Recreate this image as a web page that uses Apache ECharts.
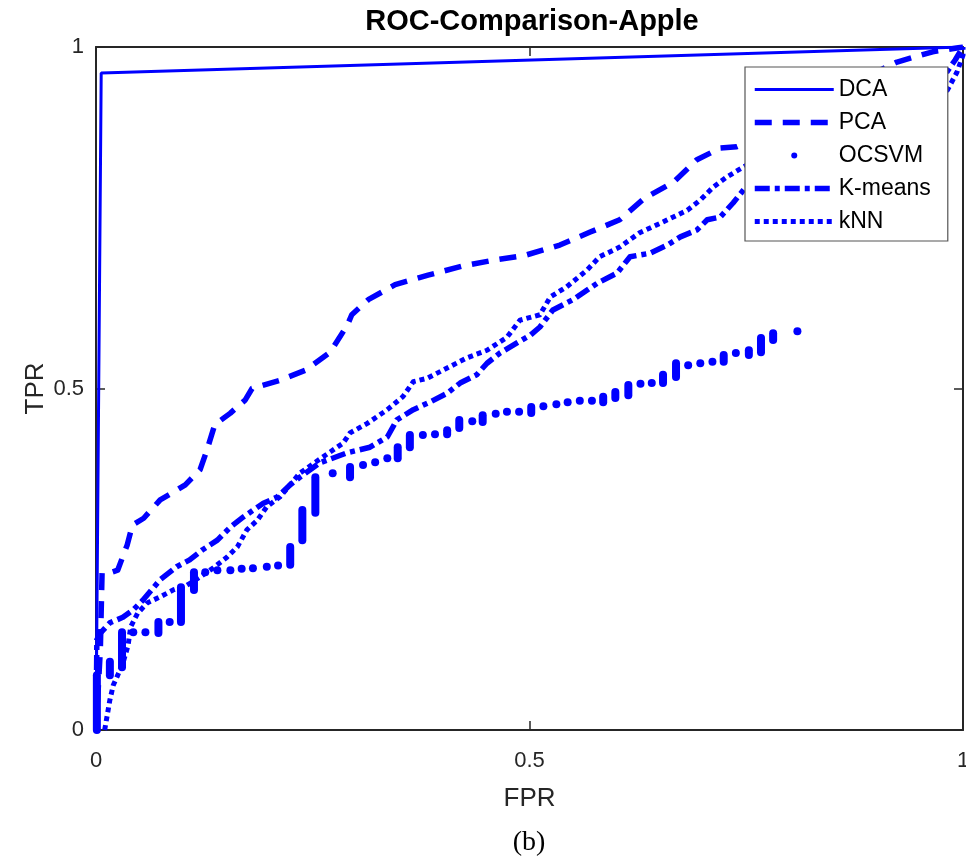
<!DOCTYPE html>
<html>
<head>
<meta charset="utf-8">
<script src="https://cdn.jsdelivr.net/npm/echarts@6/dist/echarts.min.js"></script>
<style>
  html, body { margin: 0; padding: 0; background: #ffffff; overflow: hidden; }
  #chart { width: 966px; height: 863px; }
</style>
</head>
<body>
<div id="chart"></div>
<script>
// ---------- Data ----------
const tickValues = [0, 0.5, 1];
const tickLabels = ['0', '0.5', '1'];

const dcaFpr = [0, 0.006, 1];
const dcaTpr = [0, 0.962, 1];

const pcaFpr = [0, 0.005, 0.007, 0.018, 0.025, 0.036, 0.042, 0.055, 0.074, 0.089, 0.103, 0.12, 0.128, 0.137, 0.155, 0.172, 0.18, 0.212, 0.242, 0.27, 0.29, 0.295, 0.314, 0.345, 0.383, 0.422, 0.459, 0.495, 0.535, 0.57, 0.604, 0.633, 0.666, 0.693, 0.72, 0.739, 0.81, 0.893, 0.924, 0.965, 1];
const pcaTpr = [0, 0.117, 0.23, 0.231, 0.234, 0.271, 0.30, 0.31, 0.337, 0.348, 0.359, 0.381, 0.41, 0.447, 0.464, 0.483, 0.5, 0.512, 0.527, 0.553, 0.593, 0.608, 0.63, 0.652, 0.666, 0.679, 0.688, 0.695, 0.71, 0.729, 0.747, 0.779, 0.802, 0.835, 0.852, 0.854, 0.89, 0.959, 0.978, 0.993, 1];

const kmeansFpr = [0, 0.001, 0.005, 0.016, 0.031, 0.043, 0.054, 0.074, 0.093, 0.108, 0.123, 0.14, 0.155, 0.17, 0.193, 0.209, 0.224, 0.235, 0.258, 0.29, 0.316, 0.336, 0.347, 0.366, 0.385, 0.405, 0.42, 0.439, 0.451, 0.466, 0.486, 0.501, 0.512, 0.527, 0.55, 0.578, 0.601, 0.616, 0.639, 0.659, 0.674, 0.693, 0.705, 0.72, 0.735, 0.749, 0.86, 0.979, 0.991, 1];
const kmeansTpr = [0, 0.132, 0.142, 0.157, 0.165, 0.176, 0.19, 0.22, 0.239, 0.249, 0.264, 0.278, 0.297, 0.312, 0.332, 0.341, 0.359, 0.37, 0.391, 0.406, 0.414, 0.429, 0.454, 0.469, 0.48, 0.493, 0.508, 0.52, 0.537, 0.552, 0.567, 0.578, 0.59, 0.615, 0.63, 0.654, 0.669, 0.693, 0.698, 0.71, 0.722, 0.732, 0.747, 0.751, 0.772, 0.794, 0.87, 0.959, 0.981, 1];

const knnFpr = [0.01, 0.016, 0.02, 0.025, 0.032, 0.037, 0.04, 0.048, 0.059, 0.074, 0.089, 0.105, 0.12, 0.135, 0.151, 0.163, 0.174, 0.186, 0.197, 0.212, 0.235, 0.262, 0.285, 0.293, 0.313, 0.336, 0.354, 0.366, 0.382, 0.405, 0.428, 0.451, 0.474, 0.489, 0.512, 0.524, 0.543, 0.566, 0.581, 0.604, 0.627, 0.651, 0.682, 0.697, 0.712, 0.728, 0.749, 0.86, 0.982, 0.993, 1, 1];
const knnTpr = [0, 0.044, 0.066, 0.08, 0.102, 0.124, 0.151, 0.171, 0.186, 0.195, 0.205, 0.212, 0.224, 0.237, 0.253, 0.268, 0.293, 0.307, 0.327, 0.341, 0.376, 0.4, 0.42, 0.435, 0.449, 0.469, 0.488, 0.51, 0.515, 0.53, 0.545, 0.556, 0.575, 0.6, 0.608, 0.634, 0.649, 0.673, 0.693, 0.707, 0.728, 0.742, 0.761, 0.776, 0.795, 0.81, 0.826, 0.88, 0.937, 0.963, 0.988, 1];

// OCSVM: markers only; at each FPR the TPR runs from low to high
const ocsvmFpr = [0.001, 0.016, 0.030, 0.043, 0.057, 0.072, 0.085, 0.098, 0.113, 0.126, 0.140, 0.155, 0.168, 0.181, 0.197, 0.210, 0.224, 0.238, 0.253, 0.273, 0.293, 0.308, 0.322, 0.336, 0.348, 0.362, 0.377, 0.391, 0.405, 0.419, 0.434, 0.446, 0.461, 0.474, 0.488, 0.502, 0.516, 0.531, 0.544, 0.558, 0.572, 0.585, 0.599, 0.614, 0.628, 0.641, 0.654, 0.669, 0.683, 0.697, 0.711, 0.724, 0.738, 0.753, 0.767, 0.781, 0.809];
const ocsvmTprLow = [0, 0.08, 0.092, 0.143, 0.143, 0.142, 0.158, 0.158, 0.205, 0.231, 0.234, 0.234, 0.236, 0.237, 0.239, 0.241, 0.242, 0.278, 0.318, 0.376, 0.37, 0.388, 0.392, 0.398, 0.398, 0.414, 0.432, 0.433, 0.433, 0.442, 0.452, 0.451, 0.463, 0.466, 0.466, 0.464, 0.474, 0.477, 0.480, 0.482, 0.482, 0.480, 0.486, 0.490, 0.507, 0.508, 0.508, 0.517, 0.534, 0.537, 0.539, 0.539, 0.552, 0.549, 0.553, 0.571, 0.584];
const ocsvmTprHigh = [0.08, 0.10, 0.143, 0.143, 0.143, 0.158, 0.158, 0.209, 0.231, 0.231, 0.234, 0.234, 0.236, 0.237, 0.239, 0.241, 0.268, 0.322, 0.370, 0.376, 0.385, 0.388, 0.392, 0.398, 0.414, 0.432, 0.432, 0.433, 0.439, 0.454, 0.452, 0.461, 0.463, 0.466, 0.466, 0.473, 0.474, 0.477, 0.480, 0.482, 0.482, 0.488, 0.495, 0.505, 0.507, 0.508, 0.520, 0.537, 0.534, 0.537, 0.539, 0.549, 0.552, 0.556, 0.574, 0.581, 0.584];

// ---------- Chart ----------
const BLUE = '#0000ff';
const AXIS = '#262626';
const SANS = "'Liberation Sans', Arial, Helvetica, sans-serif";

const zip = (a, b) => a.map((v, i) => [v, b[i]]);
const ocsvmData = ocsvmFpr.map((v, i) => [v, ocsvmTprLow[i], ocsvmTprHigh[i]]);
const fmt = (v) => { const i = tickValues.indexOf(v); return i >= 0 ? tickLabels[i] : ''; };

function axisBase(pos, showLabel, margin, extra) {
  return Object.assign({
    type: 'value', position: pos, min: 0, max: 1, interval: 0.5,
    axisLine: { show: true, onZero: false, lineStyle: { color: AXIS, width: 2 } },
    axisTick: { show: true, inside: true, length: 9, lineStyle: { color: AXIS, width: 1.5 } },
    axisLabel: { show: showLabel, margin: margin, fontSize: 22, color: AXIS, fontFamily: SANS, formatter: fmt, showMinLabel: true, showMaxLabel: true },
    splitLine: { show: false }
  }, extra || {});
}

const chart = echarts.init(document.getElementById('chart'), null, { renderer: 'canvas', width: 966, height: 863 });
chart.setOption({
  animation: false,
  color: [BLUE],
  graphic: [
    { type: 'text', x: 532, y: 22, z: 10,
      style: { text: 'ROC-Comparison-Apple', fill: '#000', font: "bold 29px 'Liberation Sans', Arial, sans-serif",
        align: 'center', verticalAlign: 'middle', textAlign: 'center', textVerticalAlign: 'middle' } },
    { type: 'text', x: 529, y: 843, z: 10,
      style: { text: '(b)', fill: '#000', font: "28px 'Liberation Serif', 'Times New Roman', serif",
        align: 'center', verticalAlign: 'middle', textAlign: 'center', textVerticalAlign: 'middle' } }
  ],
  grid: { left: 96, right: 3, top: 47, bottom: 133, containLabel: false, outerBoundsMode: 'none' },
  xAxis: [
    axisBase('bottom', true, 20, { name: 'FPR', nameLocation: 'middle', nameGap: 56, nameMoveOverlap: false,
      nameTextStyle: { fontSize: 26, color: AXIS, fontFamily: SANS } }),
    axisBase('top', false, 8)
  ],
  yAxis: [
    axisBase('left', true, 12, { name: 'TPR', nameLocation: 'middle', nameGap: 47, nameMoveOverlap: false,
      nameTextStyle: { fontSize: 26, color: AXIS, fontFamily: SANS } }),
    axisBase('right', false, 8)
  ],
  legend: {
    orient: 'vertical', left: 745, top: 67,
    padding: [11, 17, 8, 7], itemGap: 10,
    itemWidth: 79, itemHeight: 6,
    backgroundColor: '#ffffff', borderColor: '#555555', borderWidth: 1.2,
    itemStyle: { opacity: 0 },
    lineStyle: { width: 'inherit', type: 'inherit', color: 'inherit' },
    textStyle: { fontSize: 23, color: '#000', fontFamily: SANS, lineHeight: 22 },
    data: ['DCA', 'PCA', { name: 'OCSVM', icon: 'circle', itemStyle: { color: BLUE, opacity: 1 } }, 'K-means', 'kNN']
  },
  series: [
    { name: 'DCA', type: 'line', symbol: 'none', data: zip(dcaFpr, dcaTpr),
      lineStyle: { color: BLUE, width: 3 }, itemStyle: { color: BLUE } },
    { name: 'PCA', type: 'line', symbol: 'none', data: zip(pcaFpr, pcaTpr),
      lineStyle: { color: BLUE, width: 5.5, type: [17, 11], join: 'round' }, itemStyle: { color: BLUE } },
    { name: 'OCSVM', type: 'custom', data: ocsvmData, encode: { x: 0, y: [1, 2] },
      itemStyle: { color: BLUE },
      renderItem: function (params, api) {
        const x = api.value(0), lo = api.value(1), hi = api.value(2);
        const p0 = api.coord([x, lo]), p1 = api.coord([x, hi]);
        if (Math.abs(p0[1] - p1[1]) < 0.5) {
          return { type: 'circle', shape: { cx: p0[0], cy: p0[1], r: 4 }, style: { fill: BLUE } };
        }
        return { type: 'line', shape: { x1: p0[0], y1: p0[1], x2: p1[0], y2: p1[1] },
          style: { stroke: BLUE, lineWidth: 8, lineCap: 'round' } };
      } },
    { name: 'K-means', type: 'line', symbol: 'none', data: zip(kmeansFpr, kmeansTpr),
      lineStyle: { color: BLUE, width: 5.5, type: [15, 5, 5, 5], join: 'round' }, itemStyle: { color: BLUE } },
    { name: 'kNN', type: 'line', symbol: 'none', data: zip(knnFpr, knnTpr),
      lineStyle: { color: BLUE, width: 5, type: [5, 4], join: 'round' }, itemStyle: { color: BLUE } }
  ]
});
</script>
</body>
</html>
